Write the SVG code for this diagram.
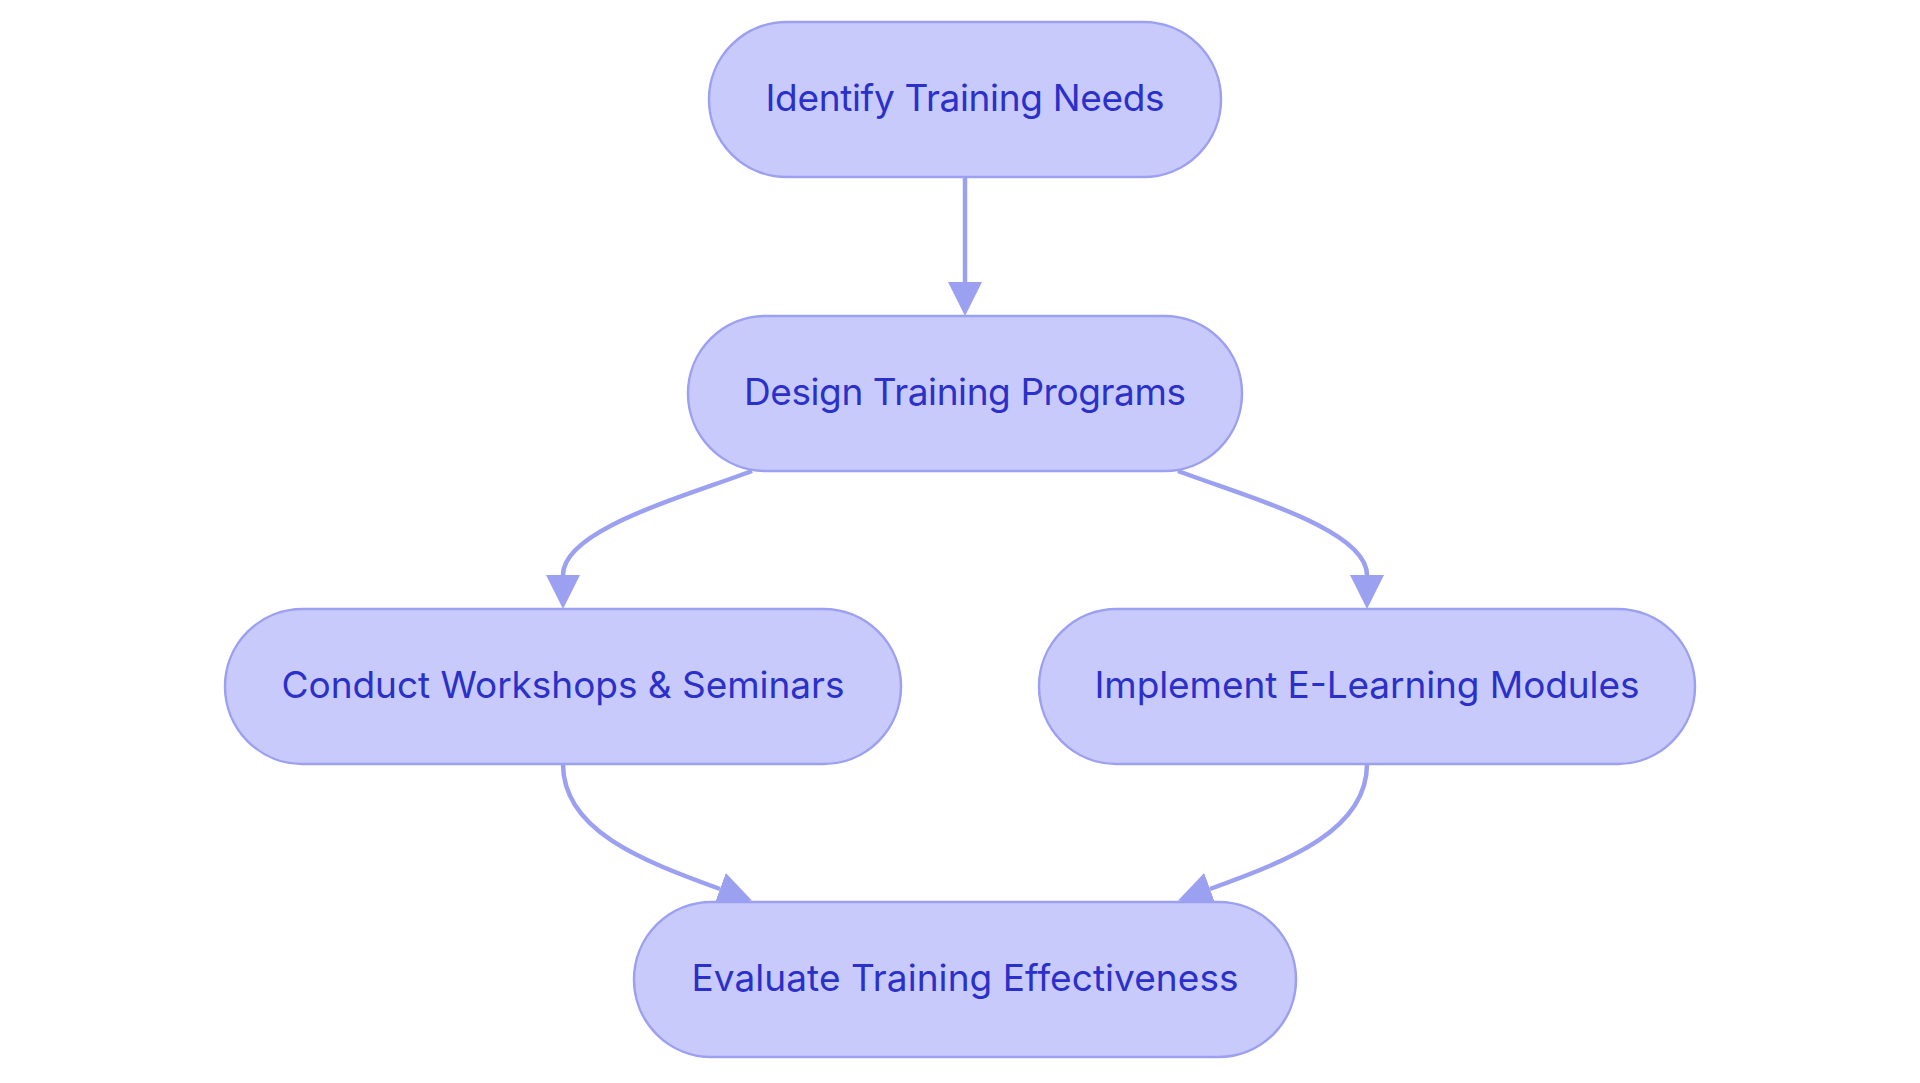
<svg xmlns="http://www.w3.org/2000/svg" width="1920" height="1083" viewBox="0 0 1920 1083">
<style>
.node rect{fill:#c9cafc;stroke:#9ca0f0;stroke-width:2.5}
.node text{font-family:Inter,"Noto Sans",sans-serif;font-size:37px;fill:#2a30c9;text-anchor:middle}
.edge{fill:none;stroke:#9ca0f0;stroke-width:4.5;marker-end:url(#arr)}
</style>
<defs>
<marker id="arr" viewBox="0 0 10 10" refX="0" refY="5" markerWidth="34" markerHeight="34" markerUnits="userSpaceOnUse" orient="auto">
<path d="M0,0 L10,5 L0,10 z" fill="#9ca0f0"/>
</marker>
</defs>
<rect width="1920" height="1083" fill="#ffffff"/>
<g id="connectors">
<path class="edge" d="M965,177 L965,282"/>
<path class="edge" d="M752,471 C680,498 563,530 563,575"/>
<path class="edge" d="M1178,471 C1250,498 1367,530 1367,575"/>
<path class="edge" d="M563,764 C563,830 640,860 720,889"/>
<path class="edge" d="M1367,764 C1367,830 1290,860 1210,889"/>
</g>
<g id="node-identify" class="node">
<rect x="709" y="22" width="512" height="155" rx="77.5" ry="77.5"/>
<text x="965" y="111" textLength="399">Identify Training Needs</text>
</g>
<g id="node-design" class="node">
<rect x="688" y="316" width="554" height="155" rx="77.5" ry="77.5"/>
<text x="965" y="405" textLength="442">Design Training Programs</text>
</g>
<g id="node-workshops" class="node">
<rect x="225" y="609" width="676" height="155" rx="77.5" ry="77.5"/>
<text x="563" y="698" textLength="563">Conduct Workshops &amp; Seminars</text>
</g>
<g id="node-elearning" class="node">
<rect x="1039" y="609" width="656" height="155" rx="77.5" ry="77.5"/>
<text x="1367" y="698" textLength="545">Implement E-Learning Modules</text>
</g>
<g id="node-evaluate" class="node">
<rect x="634" y="902" width="662" height="155" rx="77.5" ry="77.5"/>
<text x="965" y="991" textLength="547">Evaluate Training Effectiveness</text>
</g>
</svg>
